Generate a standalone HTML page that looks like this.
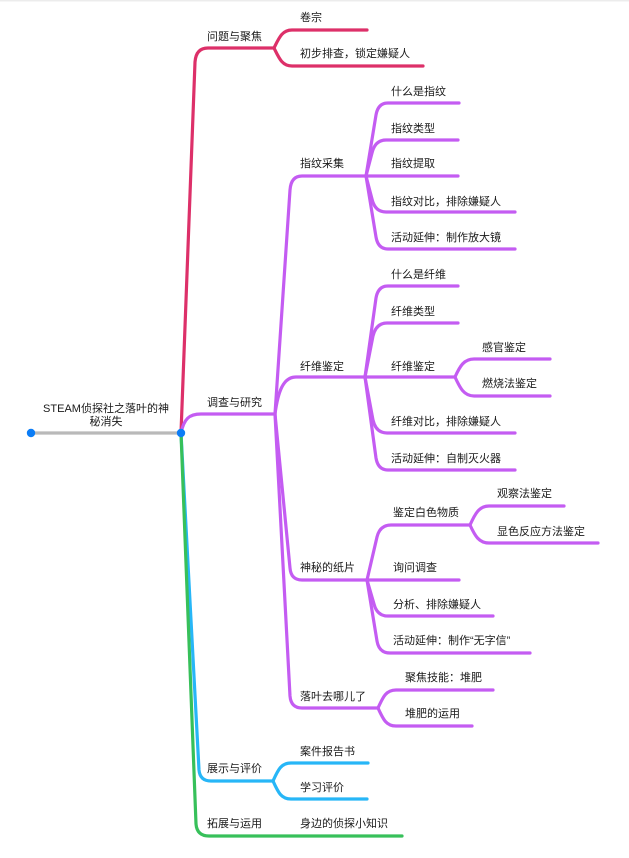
<!DOCTYPE html>
<html><head><meta charset="utf-8"><style>
html,body{margin:0;padding:0;background:#fff;}
svg{display:block;}
text{font-family:"Liberation Sans","Noto Sans CJK SC",sans-serif;font-size:11px;fill:#1a1a1a;}
</style></head><body>
<svg width="629" height="858" viewBox="0 0 629 858" xmlns="http://www.w3.org/2000/svg">
<rect x="0" y="0" width="629" height="1.5" fill="#ececec"/>
<g fill="none" stroke-linecap="round" stroke-linejoin="round" stroke-width="3.2">
<!-- root -->
<path d="M31,433 L181,433" stroke="#b9b9b9"/>
<!-- blue -->
<g stroke="#27b6f7">
<path d="M181,433 L199,770 Q200,781 211,781 L273,781"/>
<path d="M273,781 C278,770 281,763 291,763 L368,763"/>
<path d="M273,781 C278,792 281,799 291,799 L367,799"/>
</g>
<!-- green -->
<path d="M181,433 L196,824 Q197,836 209,836 L402,836" stroke="#37c05a"/>
<!-- red -->
<g stroke="#dd3069">
<path d="M181,433 L195,62 Q196,48 208,48 L274,48"/>
<path d="M274,48 C279,38 282,30 292,30 L367,30"/>
<path d="M274,48 C279,58 282,66 292,66 L423,66"/>
</g>
<!-- purple -->
<g stroke="#c45cf2">
<path d="M181,433 C184,419 189,414 201,414 L275,414"/>
<path d="M275,414 L290,190 Q291,176 302,176 L366,176"/>
<path d="M275,414 C278,392 283,377 296,377 L365,377"/>
<path d="M275,414 L290,568 Q291,580 302,580 L367,580"/>
<path d="M275,414 L290,696 Q291,708 302,708 L378,708"/>
<!-- 指纹采集 -->
<path d="M366,176 L376,115 Q378,103 388,103 L459,103"/>
<path d="M366,176 L372,153 Q375,140 386,140 L458,140"/>
<path d="M366,176 L458,176"/>
<path d="M366,176 L372,199 Q375,212 386,212 L515,212"/>
<path d="M366,176 L376,237 Q378,249 388,249 L515,249"/>
<!-- 纤维鉴定 -->
<path d="M365,377 L376,298 Q378,286 388,286 L458,286"/>
<path d="M365,377 L373,336 Q376,323 387,323 L458,323"/>
<path d="M365,377 L455,377"/>
<path d="M455,377 C460,366 464,359 474,359 L550,359"/>
<path d="M455,377 C460,388 464,396 474,396 L550,396"/>
<path d="M365,377 L373,420 Q376,433 387,433 L515,433"/>
<path d="M365,377 L376,458 Q378,470 388,470 L515,470"/>
<!-- 神秘的纸片 -->
<path d="M367,580 L377,537 Q380,525 391,525 L470,525"/>
<path d="M470,525 C475,514 479,506 489,506 L564,506"/>
<path d="M470,525 C475,536 479,543 489,543 L598,543"/>
<path d="M367,580 L459,580"/>
<path d="M367,580 L374,604 Q377,616 388,616 L493,616"/>
<path d="M367,580 L377,641 Q379,653 390,653 L530,653"/>
<!-- 落叶 -->
<path d="M378,708 C383,697 386,690 396,690 L493,690"/>
<path d="M378,708 C383,719 386,726 396,726 L472,726"/>
</g>
</g>
<circle cx="31" cy="433" r="4.2" fill="#0c7df6"/>
<circle cx="181" cy="433" r="4.2" fill="#0c7df6"/>
<!-- texts -->
<text x="106" y="412" text-anchor="middle">STEAM侦探社之落叶的神</text>
<text x="106" y="425" text-anchor="middle">秘消失</text>
<text x="207" y="40">问题与聚焦</text>
<text x="300" y="21">卷宗</text>
<text x="300" y="57">初步排查，锁定嫌疑人</text>
<text x="207" y="406">调查与研究</text>
<text x="300" y="167">指纹采集</text>
<text x="391" y="95">什么是指纹</text>
<text x="391" y="132">指纹类型</text>
<text x="391" y="167">指纹提取</text>
<text x="391" y="205">指纹对比，排除嫌疑人</text>
<text x="391" y="241">活动延伸：制作放大镜</text>
<text x="300" y="370">纤维鉴定</text>
<text x="391" y="278">什么是纤维</text>
<text x="391" y="315">纤维类型</text>
<text x="391" y="370">纤维鉴定</text>
<text x="482" y="351">感官鉴定</text>
<text x="482" y="387">燃烧法鉴定</text>
<text x="391" y="425">纤维对比，排除嫌疑人</text>
<text x="391" y="462">活动延伸：自制灭火器</text>
<text x="300" y="571">神秘的纸片</text>
<text x="393" y="516">鉴定白色物质</text>
<text x="497" y="497">观察法鉴定</text>
<text x="497" y="535">显色反应方法鉴定</text>
<text x="393" y="571">询问调查</text>
<text x="393" y="608">分析、排除嫌疑人</text>
<text x="393" y="644">活动延伸：制作“无字信”</text>
<text x="300" y="700">落叶去哪儿了</text>
<text x="405" y="681">聚焦技能：堆肥</text>
<text x="405" y="717">堆肥的运用</text>
<text x="207" y="772">展示与评价</text>
<text x="300" y="755">案件报告书</text>
<text x="300" y="791">学习评价</text>
<text x="207" y="827">拓展与运用</text>
<text x="300" y="827">身边的侦探小知识</text>
</svg>
</body></html>
